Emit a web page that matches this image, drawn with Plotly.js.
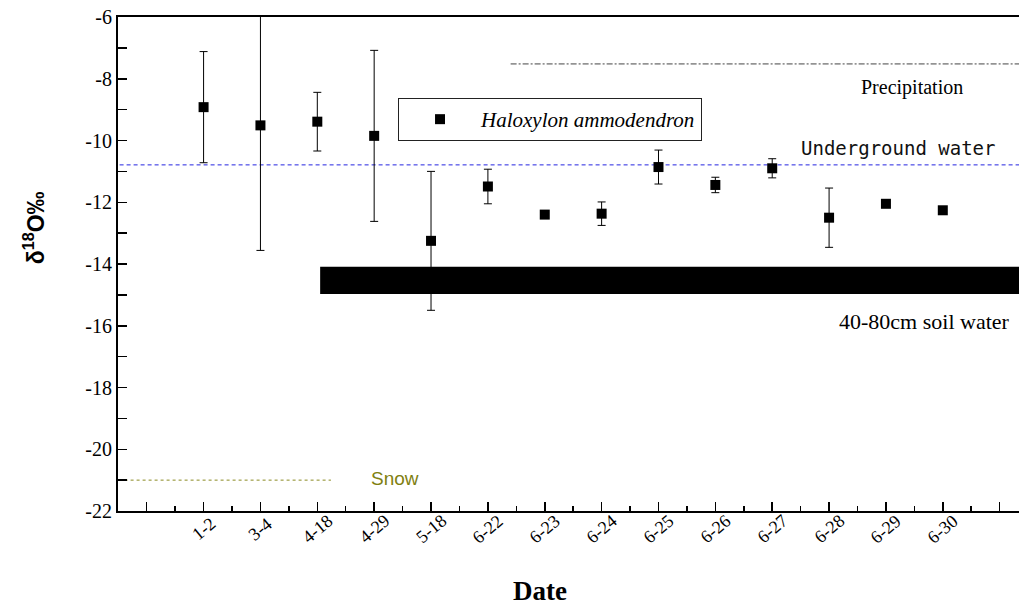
<!DOCTYPE html>
<html>
<head>
<meta charset="utf-8">
<script src="https://cdn.plot.ly/plotly-3.0.1.min.js"></script>
<style>html,body{margin:0;padding:0;background:#fff;}#chart{width:1019px;height:609px;}</style>
</head>
<body>
<div id="chart"></div>
<script>
// ---- data ----
const dates = ['1-2','3-4','4-18','4-29','5-18','6-22','6-23','6-24','6-25','6-26','6-27','6-28','6-29','6-30'];
const d18O  = [-8.92,-9.51,-9.39,-9.85,-13.25,-11.49,-12.40,-12.37,-10.86,-11.44,-10.90,-12.50,-12.05,-12.26];
const errs  = [1.80, 4.05, 0.95, 2.77, 2.25, 0.56, 0.08, 0.38, 0.55, 0.25, 0.31, 0.96, 0.05, 0.05];
const yTickVals = [-22, -20, -18, -16, -14, -12, -10, -8, -6];
const yTickText = ['-22', '-20', '-18', '-16', '-14', '-12', '-10', '-8', '-6'];

const precipX = [6.4, 15.4];   const precipY = [-7.52, -7.52];
const groundX = [-0.6, 15.4];  const groundY = [-10.79, -10.79];
const snowX   = [-0.6, 3.24];  const snowY   = [-21.0, -21.0];
const soilX   = [3.05, 15.4];  const soilY   = [-14.97, -14.09];

const xIdx = dates.map((d, i) => i + 1);
const xRange = [-0.505, 15.34];

const serif = 'Liberation Serif';
const sans = 'Liberation Sans';

const traces = [
  {x: precipX, y: precipY, mode: 'lines', line: {color: '#444', width: 1, dash: '6px,2px,2px,2px'}, showlegend: false, hoverinfo: 'skip'},
  {x: groundX, y: groundY, mode: 'lines', line: {color: '#2424e0', width: 1, dash: '4px,3px'}, showlegend: false, hoverinfo: 'skip'},
  {x: snowX, y: snowY, mode: 'lines', line: {color: '#8a8a20', width: 1, dash: 'dot'}, showlegend: false, hoverinfo: 'skip'},
  {x: [soilX[0], soilX[1], soilX[1], soilX[0], soilX[0]], y: [soilY[1], soilY[1], soilY[0], soilY[0], soilY[1]],
   mode: 'lines', fill: 'toself', fillcolor: '#000', line: {color: '#000', width: 0}, showlegend: false, hoverinfo: 'skip'},
  {x: xIdx, y: d18O, mode: 'markers', name: '<i>Haloxylon ammodendron</i>',
   marker: {symbol: 'square', size: 10, color: '#000'},
   error_y: {type: 'data', array: errs, visible: true, color: '#000', thickness: 1, width: 4}}
];

// date labels placed under each category position, rotated about their centre
const dateLabels = dates.map((d, i) => ({
  xref: 'x', yref: 'paper', x: xIdx[i], y: -0.0364, xanchor: 'center', yanchor: 'middle',
  text: d, textangle: -40, showarrow: false, font: {family: serif, size: 18, color: '#000'}
}));

const layout = {
  width: 1019, height: 609,
  margin: {l: 118, r: 0, t: 17, b: 98},
  paper_bgcolor: '#fff', plot_bgcolor: '#fff',
  showlegend: true,
  legend: {x: 0.3108, y: 0.836, xanchor: 'left', yanchor: 'top', bordercolor: '#222', borderwidth: 1,
           itemwidth: 72, font: {family: serif, size: 21, color: '#000'}, bgcolor: '#fff'},
  xaxis: {
    range: xRange, showgrid: false, zeroline: false, showticklabels: false,
    tickmode: 'linear', tick0: 0, dtick: 1,
    ticks: 'inside', ticklen: 9, tickwidth: 1.5, tickcolor: '#000',
    minor: {tickmode: 'linear', tick0: 0.5, dtick: 1, ticks: 'inside', ticklen: 5, tickwidth: 1.5, tickcolor: '#000'},
    showline: true, linecolor: '#000', linewidth: 2, mirror: true
  },
  yaxis: {
    range: [-22, -6], showgrid: false, zeroline: false,
    tickmode: 'array', tickvals: yTickVals, ticktext: yTickText,
    ticks: 'inside', ticklen: 9, tickwidth: 1.5, tickcolor: '#000',
    minor: {tickmode: 'linear', tick0: -21, dtick: 2, ticks: 'inside', ticklen: 9, tickwidth: 1.5, tickcolor: '#000'},
    showline: true, linecolor: '#000', linewidth: 2,
    tickfont: {family: serif, size: 20, color: '#000'}
  },
  annotations: dateLabels.concat([
    {xref: 'paper', yref: 'paper', x: -0.093, y: 0.573, xanchor: 'center', yanchor: 'middle',
     text: '<b>δ<sup>18</sup>O‰</b>', textangle: -90,
     showarrow: false, font: {family: sans, size: 23, color: '#000'}},
    {xref: 'paper', yref: 'paper', x: 0.468, y: -0.162, xanchor: 'center', yanchor: 'middle', text: '<b>Date</b>', showarrow: false,
     borderpad: 0, font: {family: serif, size: 27, color: '#000'}},
    {xref: 'x', yref: 'y', x: 13.46, y: -8.27, text: 'Precipitation', showarrow: false,
     font: {family: serif, size: 20, color: '#000'}},
    {xref: 'x', yref: 'y', x: 13.22, y: -10.24, text: 'Underground water', showarrow: false,
     font: {family: 'DejaVu Sans Mono', size: 19, color: '#111'}},
    {xref: 'x', yref: 'y', x: 13.68, y: -15.85, text: '40-80cm soil water', showarrow: false,
     font: {family: serif, size: 22, color: '#000'}},
    {xref: 'x', yref: 'y', x: 4.37, y: -20.96, text: 'Snow', showarrow: false,
     font: {family: sans, size: 19, color: '#808010'}}
  ])
};

Plotly.newPlot('chart', traces, layout, {displayModeBar: false, staticPlot: true});
</script>
</body>
</html>
